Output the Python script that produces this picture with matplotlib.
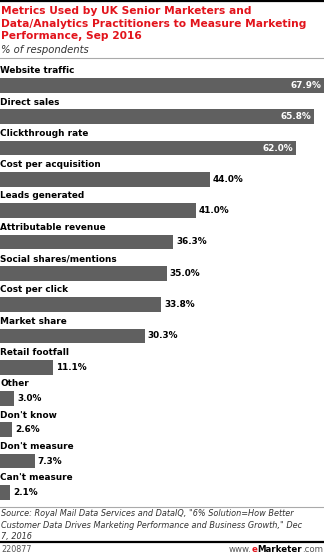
import matplotlib
matplotlib.use("Agg")
import matplotlib.pyplot as plt

# survey results, % of respondents
metrics = [
    "Website traffic", "Direct sales", "Clickthrough rate", "Cost per acquisition",
    "Leads generated", "Attributable revenue", "Social shares/mentions",
    "Cost per click", "Market share", "Retail footfall", "Other", "Don't know",
    "Don't measure", "Can't measure",
]
shares = [67.9, 65.8, 62.0, 44.0, 41.0, 36.3, 35.0, 33.8, 30.3, 11.1, 3.0, 2.6, 7.3, 2.1]

title_lines = [
    "Metrics Used by UK Senior Marketers and",
    "Data/Analytics Practitioners to Measure Marketing",
    "Performance, Sep 2016",
]
subtitle = "% of respondents"
source_lines = [
    "Source: Royal Mail Data Services and DataIQ, \"6% Solution=How Better",
    "Customer Data Drives Marketing Performance and Business Growth,\" Dec",
    "7, 2016",
]
chart_id = "220877"

RED = "#e2131b"
BAR = "#606060"
W, H = 324, 555

fig = plt.figure(figsize=(W / 100, H / 100), dpi=100)
fig.patch.set_facecolor("white")


def fy(px):
    return 1 - px / H


def fx(px):
    return px / W


# header
fig.add_artist(plt.Line2D([0, 1], [fy(1), fy(1)], color="black", lw=1.6))
for i, line in enumerate(title_lines):
    fig.text(fx(1), fy(11 + 12.6 * i), line, color=RED, fontsize=7.7,
             fontweight="bold", va="center", ha="left")
fig.text(fx(1), fy(50), subtitle, color="#333333", fontsize=7.2,
         style="italic", va="center", ha="left")
fig.add_artist(plt.Line2D([0, 1], [fy(58), fy(58)], color="#aaaaaa", lw=0.8))

# bars
step = 31.3
first_center = 85.5
top_px = first_center - step / 2
bot_px = first_center + step * (len(metrics) - 1) + step / 2
ax = fig.add_axes([0, fy(bot_px), 1, (bot_px - top_px) / H])
ax.set_xlim(0, 67.9)
ax.set_ylim(len(metrics) - 0.5, -0.5)
ax.axis("off")

ypos = list(range(len(metrics)))
ax.barh(ypos, shares, height=0.47, color=BAR, edgecolor="none")

for y, name, v in zip(ypos, metrics, shares):
    ax.text(0.1, y - 0.47, name, fontsize=6.4, fontweight="bold",
            va="center", ha="left", color="black")
    label = f"{v:.1f}%"
    if v > 60:
        ax.text(v - 0.6, y, label, fontsize=6.4, fontweight="bold",
                va="center", ha="right", color="white")
    else:
        ax.text(v + 0.6, y, label, fontsize=6.4, fontweight="bold",
                va="center", ha="left", color="black")

# footer
fig.add_artist(plt.Line2D([0, 1], [fy(507), fy(507)], color="#aaaaaa", lw=0.8))
for i, line in enumerate(source_lines):
    fig.text(fx(1), fy(514 + 11.3 * i), line, color="#333333", fontsize=5.9,
             style="italic", va="center", ha="left")
fig.add_artist(plt.Line2D([0, 1], [fy(542), fy(542)], color="black", lw=1.6))
fig.text(fx(1), fy(549), chart_id, color="#555555", fontsize=5.8,
         va="center", ha="left")

# www.eMarketer.com, built right to left
fig.canvas.draw()
renderer = fig.canvas.get_renderer()
parts = [(".com", "#555555", "normal"), ("Marketer", "black", "bold"),
         ("e", RED, "bold"), ("www.", "#555555", "normal")]
right = fx(W - 1)
for txt, col, wt in parts:
    t = fig.text(right, fy(549), txt, color=col, fontsize=6.2, fontweight=wt,
                 va="center", ha="right")
    bb = t.get_window_extent(renderer)
    right -= bb.width / W

fig.savefig("out.png", dpi=100, facecolor="white")
